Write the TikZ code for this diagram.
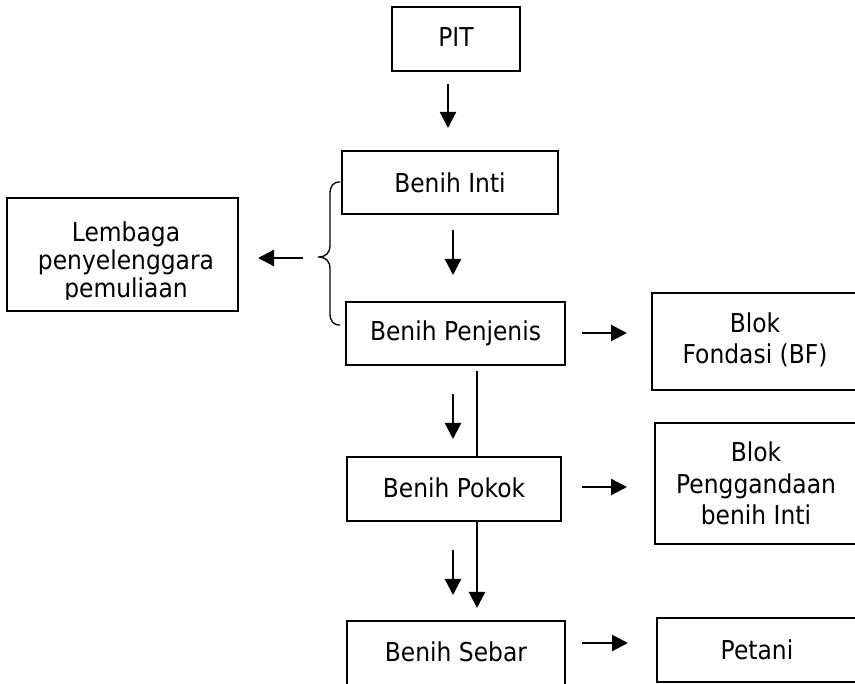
\documentclass[tikz,border=0pt]{standalone}
\usepackage{fontspec}
\setmainfont[FakeStretch=0.9]{DejaVu Sans}
\usetikzlibrary{arrows.meta}
\begin{document}
\begin{tikzpicture}[x=1pt,y=-1pt,
  box/.style={draw, line width=2pt, inner sep=0pt, align=center,
    font=\fontsize{26}{31.5}\selectfont},
  arr/.style={line width=2.3pt, -{Triangle[length=16pt,width=16pt]}},
  plain/.style={line width=2.3pt}]
\useasboundingbox (0,0) rectangle (855,684);
\clip (0,0) rectangle (855,684);
\fill[white] (0,0) rectangle (855,684);
% main column
\node[box, minimum width=128pt, minimum height=64pt] (pit) at (456,39) {\raisebox{4pt}{PIT}};
\node[box, minimum width=216pt, minimum height=63pt] (inti) at (450,182.5) {Benih Inti};
\node[box, minimum width=219pt, minimum height=63pt] (penjenis) at (455.5,333.5) {\raisebox{6pt}{Benih Penjenis}};
\node[box, minimum width=214pt, minimum height=64pt] (pokok) at (454,489) {\raisebox{3pt}{Benih Pokok}};
\node[box, minimum width=218pt, minimum height=64pt] (sebar) at (456,653) {\raisebox{3pt}{Benih Sebar}};
% right column
\node[box, minimum width=206pt, minimum height=97pt] (fondasi) at (755,341.5) {\raisebox{2pt}{\begin{tabular}{@{}c@{}}Blok\\Fondasi (BF)\end{tabular}}};
\node[box, minimum width=202pt, minimum height=121pt] (pengg) at (756,483.5) {Blok\\Penggandaan\\benih Inti};
\node[box, minimum width=200pt, minimum height=64pt] (petani) at (757,650) {Petani};
% left box with clipped text
\node[draw, line width=2pt, minimum width=231pt, minimum height=113pt] (lembaga) at (122.5,254.5) {};
\begin{scope}
\clip (8,199) rectangle (237,300);
\node[align=center, inner sep=0pt, font=\fontsize{26}{28}\selectfont] (lembagatext) at (126,262) {Lembaga\\penyelenggara\\pemuliaan};
\end{scope}
% brace
\coordinate (bracetip) at (318,257);
\draw[line width=1.3pt] (340,182) .. controls (333,182) and (330,186) .. (330,194) -- (330,245)
  .. controls (330,253) and (326,257) .. (bracetip)
  .. controls (326,257) and (330,261) .. (330,269) -- (330,313)
  .. controls (330,321) and (333,325) .. (340,325);
% connectors
\draw[arr] ([xshift=-8pt,yshift=-12pt]pit.south) -- ([xshift=-2pt,yshift=22pt]inti.north);
\draw[arr] ([xshift=3pt,yshift=-15pt]inti.south) -- ([xshift=-2.5pt,yshift=26pt]penjenis.north);
\draw[arr] ([xshift=-2.5pt,yshift=-28pt]penjenis.south) -- ([xshift=-1pt,yshift=17pt]pokok.north);
\draw[plain] ([xshift=21.5pt,yshift=-5pt]penjenis.south) -- ([xshift=23pt]pokok.north);
\draw[arr] ([xshift=-1pt,yshift=-28pt]pokok.south) -- ([xshift=-3pt,yshift=25pt]sebar.north);
\draw[arr] ([xshift=23pt]pokok.south) -- ([xshift=21pt,yshift=12pt]sebar.north);
\draw[arr, shorten <=16pt, shorten >=24pt] ([yshift=0.5pt]penjenis.east) -- ([yshift=0.5pt]penjenis.east -| fondasi.west);
\draw[arr, shorten <=20pt, shorten >=27pt] ([yshift=2pt]pokok.east) -- ([yshift=2pt]pokok.east -| pengg.west);
\draw[arr, shorten <=16pt, shorten >=28pt] ([yshift=10pt]sebar.east) -- ([yshift=10pt]sebar.east -| petani.west);
\draw[arr, shorten <=15pt, shorten >=19pt] ([yshift=-1pt]bracetip) -- ([yshift=-1pt]bracetip -| lembaga.east);
\end{tikzpicture}
\end{document}
